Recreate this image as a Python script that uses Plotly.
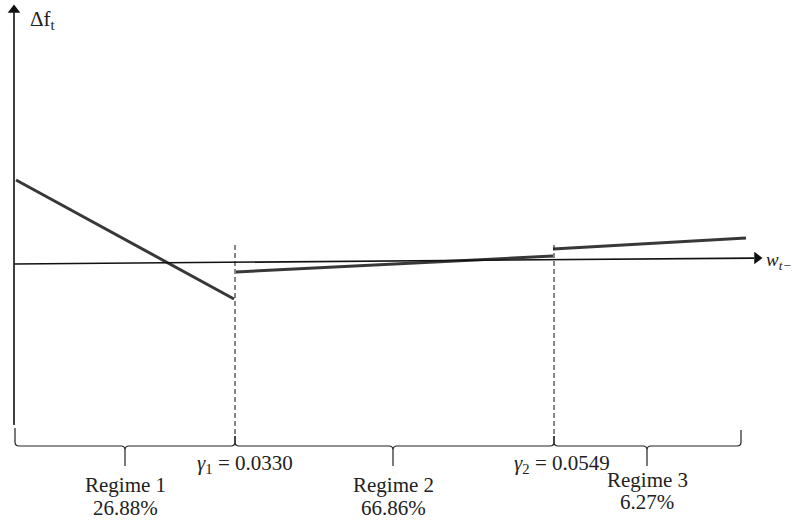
import plotly.graph_objects as go

# ---- schematic data (pixel-like schematic units; y grows downward) ----
boundary_x = [15, 235, 554, 741]          # regime boundaries along w axis
brace_center_x = [125, 393, 647]
regime_names = ["Regime 1", "Regime 2", "Regime 3"]
regime_shares = ["26.88%", "66.86%", "6.27%"]
threshold_labels = ["<i>γ</i><sub>1</sub> = 0.0330", "<i>γ</i><sub>2</sub> = 0.0549"]
regime_line_x0 = [16, 236, 553]
regime_line_x1 = [234, 553, 746]
regime_line_y0 = [180, 272, 249]
regime_line_y1 = [299, 256, 238]

# axes of the schematic
yaxis_x = 14
yaxis_bottom, yaxis_top = 425, 4
xaxis_x0, xaxis_x1 = 14, 762
xaxis_y0, xaxis_y1 = 264, 258
dash_top, dash_bottom = 245, 436
brace_y, brace_top, brace_tip = 446, 428, 466

FONT = "Liberation Serif"
fig = go.Figure()

# regime lines
for i in range(3):
    fig.add_trace(go.Scatter(
        x=[regime_line_x0[i], regime_line_x1[i]],
        y=[regime_line_y0[i], regime_line_y1[i]],
        mode="lines", line=dict(color="#383838", width=3),
        hoverinfo="skip", showlegend=False))

# axes lines
fig.add_trace(go.Scatter(x=[yaxis_x, yaxis_x], y=[yaxis_bottom, yaxis_top + 8],
                         mode="lines", line=dict(color="#111", width=1.6),
                         hoverinfo="skip", showlegend=False))
fig.add_trace(go.Scatter(x=[xaxis_x0, xaxis_x1 - 8], y=[xaxis_y0, xaxis_y1 + 0.1],
                         mode="lines", line=dict(color="#111", width=1.6),
                         hoverinfo="skip", showlegend=False))
# arrow heads
fig.add_trace(go.Scatter(x=[yaxis_x], y=[yaxis_top + 6], mode="markers",
                         marker=dict(symbol="triangle-up", size=11, color="#111"),
                         hoverinfo="skip", showlegend=False))
fig.add_trace(go.Scatter(x=[xaxis_x1 - 5], y=[xaxis_y1], mode="markers",
                         marker=dict(symbol="triangle-right", size=11, color="#111"),
                         hoverinfo="skip", showlegend=False))

# dashed threshold lines
for bx in boundary_x[1:3]:
    fig.add_trace(go.Scatter(x=[bx, bx], y=[dash_top, dash_bottom], mode="lines",
                             line=dict(color="#111", width=1, dash="5px,3px"),
                             hoverinfo="skip", showlegend=False))

# braces
r = 4
for i in range(3):
    x0, x1 = boundary_x[i], boundary_x[i + 1]
    xc = brace_center_x[i]
    top0 = brace_top if i == 0 else dash_bottom
    top1 = brace_top + 2 if i == 2 else dash_bottom
    p = (f"M {x0},{top0} L {x0},{brace_y - r} Q {x0},{brace_y} {x0 + r},{brace_y} "
         f"L {xc - r},{brace_y} Q {xc},{brace_y} {xc},{brace_y + r} L {xc},{brace_tip} "
         f"M {xc},{brace_y + r} Q {xc},{brace_y} {xc + r},{brace_y} "
         f"L {x1 - r},{brace_y} Q {x1},{brace_y} {x1},{brace_y - r} L {x1},{top1}")
    fig.add_shape(type="path", path=p, xref="x", yref="y",
                  line=dict(color="#222", width=1.2))

# texts
name_y = [485, 485, 480]
share_y = [508, 508, 502]
for i in range(3):
    fig.add_annotation(x=brace_center_x[i], y=name_y[i], text=regime_names[i], showarrow=False,
                       font=dict(family=FONT, size=21, color="#222"))
    fig.add_annotation(x=brace_center_x[i], y=share_y[i], text=regime_shares[i], showarrow=False,
                       font=dict(family=FONT, size=21, color="#222"))
thr_x = [245, 562]
for i in range(2):
    fig.add_annotation(x=thr_x[i], y=464, text=threshold_labels[i], showarrow=False,
                       font=dict(family=FONT, size=21, color="#222"))

fig.add_annotation(x=28, y=20, text="Δf<sub>t</sub>", showarrow=False, xanchor="left",
                   font=dict(family=FONT, size=21, color="#222"))
fig.add_annotation(x=764, y=261, text="<i>w</i><sub><i>t−</i></sub>", showarrow=False,
                   xanchor="left", font=dict(family=FONT, size=19, color="#222"))

fig.update_layout(
    width=792, height=522, margin=dict(l=0, r=0, t=0, b=0),
    paper_bgcolor="white", plot_bgcolor="white", showlegend=False,
    xaxis=dict(range=[0, 792], visible=False, fixedrange=True),
    yaxis=dict(range=[522, 0], visible=False, fixedrange=True),
)
fig.write_html("out.html", config={"displayModeBar": False},
               post_script="document.body.style.margin='0';document.body.style.overflow='hidden';")
